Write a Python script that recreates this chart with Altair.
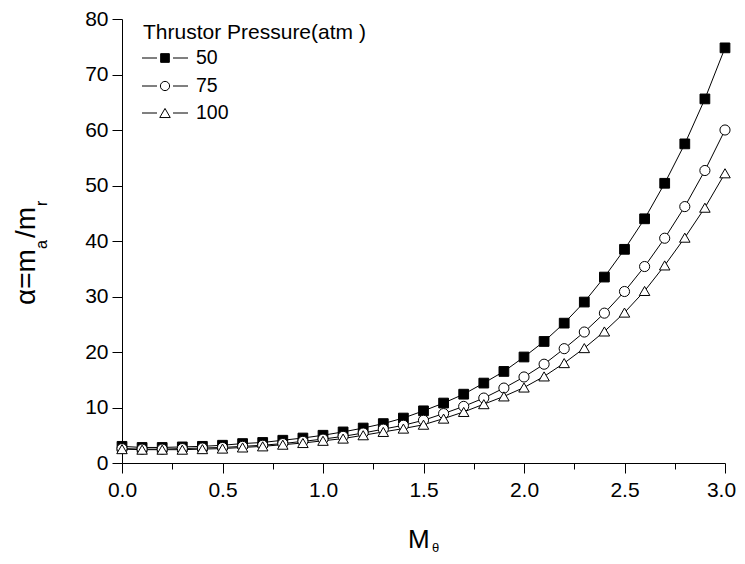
import altair as alt
import pandas as pd

mach = [0.0, 0.1, 0.2, 0.3, 0.4, 0.5, 0.6, 0.7, 0.8, 0.9, 1.0,
        1.1, 1.2, 1.3, 1.4, 1.5, 1.6, 1.7, 1.8, 1.9, 2.0,
        2.1, 2.2, 2.3, 2.4, 2.5, 2.6, 2.7, 2.8, 2.9, 3.0]

alpha_50 = [3.0, 2.8, 2.8, 2.9, 3.0, 3.2, 3.5, 3.7, 4.1, 4.5, 5.0,
            5.6, 6.3, 7.1, 8.1, 9.4, 10.8, 12.4, 14.4, 16.5, 19.1,
            21.9, 25.2, 29.0, 33.5, 38.5, 44.0, 50.4, 57.5, 65.6, 74.8]
alpha_75 = [2.6, 2.5, 2.5, 2.6, 2.7, 2.8, 3.0, 3.2, 3.5, 3.9, 4.3,
            4.8, 5.4, 6.1, 6.8, 7.7, 8.9, 10.2, 11.7, 13.5, 15.5,
            17.8, 20.6, 23.6, 27.0, 30.9, 35.4, 40.5, 46.2, 52.7, 60.0]
alpha_100 = [2.5, 2.4, 2.4, 2.4, 2.5, 2.6, 2.8, 3.0, 3.3, 3.6, 4.0,
             4.4, 5.0, 5.6, 6.2, 6.9, 8.0, 9.2, 10.6, 12.0, 13.6,
             15.6, 18.0, 20.7, 23.7, 27.1, 31.0, 35.6, 40.6, 46.0, 52.2]

series_names = ["50", "75", "100"]
series_shapes = ["square", "circle", "triangle-up"]
series_fills = ["black", "white", "white"]
series_sizes = [95, 110, 140]
legend_title = "Thrustor Pressure(atm )"

x_ticks = [0.0, 0.25, 0.5, 0.75, 1.0, 1.25, 1.5, 1.75, 2.0, 2.25, 2.5, 2.75, 3.0]
y_ticks = [0, 5, 10, 15, 20, 25, 30, 35, 40, 45, 50, 55, 60, 65, 70, 75, 80]

rows = []
for name, vals in zip(series_names, [alpha_50, alpha_75, alpha_100]):
    for m, a in zip(mach, vals):
        rows.append({"M": m, "alpha": a, "series": name})
df = pd.DataFrame(rows)

FONT = "Liberation Sans"

x_enc = alt.X(
    "M:Q",
    scale=alt.Scale(domain=[0, 3], nice=False, zero=False, padding=0),
    axis=alt.Axis(
        values=x_ticks,
        labelExpr="datum.value % 0.5 === 0 ? format(datum.value, '.1f') : ''",
        tickSize={"condition": {"test": "datum.value % 0.5 === 0", "value": 10}, "value": 6},
        labelOffset={"condition": {"test": "datum.value === 3", "value": -4}, "value": 0},
        labelPadding=6,
        labelFlush=False,
        offset=0,
        title=None,
        grid=False,
    ),
)
y_enc = alt.Y(
    "alpha:Q",
    scale=alt.Scale(domain=[0, 80], nice=False, padding=0),
    axis=alt.Axis(
        values=y_ticks,
        labelExpr="datum.value % 10 === 0 ? format(datum.value, 'd') : ''",
        tickSize={"condition": {"test": "datum.value % 10 === 0", "value": 10}, "value": 6},
        labelPadding=4,
        labelFlush=False,
        offset=0,
        title=None,
        grid=False,
    ),
)

base = alt.Chart(df)

lines = base.mark_line(color="black", strokeWidth=1).encode(
    x=x_enc, y=y_enc, detail="series:N"
)

points = base.mark_point(filled=True, stroke="black", strokeWidth=1, opacity=1).encode(
    x="M:Q",
    y="alpha:Q",
    shape=alt.Shape("series:N", scale=alt.Scale(domain=series_names, range=series_shapes), legend=None),
    fill=alt.Fill("series:N", scale=alt.Scale(domain=series_names, range=series_fills), legend=None),
    size=alt.Size("series:N", scale=alt.Scale(domain=series_names, range=series_sizes), legend=None),
)

layers = [lines, points]

# manual legend
row_y = [39, 67, 94]
layers.append(
    alt.Chart(pd.DataFrame({"t": [legend_title]})).mark_text(
        font=FONT, fontSize=21, align="left", baseline="middle", color="black"
    ).encode(text="t:N", x=alt.value(21), y=alt.value(14))
)
legend_sizes = [75, 85, 110]
for i, (name, shp, fl) in enumerate(zip(series_names, series_shapes, series_fills)):
    d = pd.DataFrame({"label": [name]})
    c = alt.Chart(d)
    layers.append(c.mark_rule(color="black", strokeWidth=1).encode(
        x=alt.value(20), x2=alt.value(35), y=alt.value(row_y[i])))
    layers.append(c.mark_rule(color="black", strokeWidth=1).encode(
        x=alt.value(51), x2=alt.value(66), y=alt.value(row_y[i])))
    layers.append(c.mark_point(shape=shp, filled=True, fill=fl, stroke="black",
                               strokeWidth=1, size=legend_sizes[i], opacity=1).encode(
        x=alt.value(43), y=alt.value(row_y[i])))
    layers.append(c.mark_text(font=FONT, fontSize=19.5, align="left", baseline="middle",
                              color="black").encode(
        text="label:N", x=alt.value(74), y=alt.value(row_y[i])))

# axis titles with subscripts
def txt(s, size, x, y, angle=0, align="left", baseline="alphabetic"):
    kw = dict(font=FONT, fontSize=size, align=align, baseline=baseline, color="black")
    if angle:
        kw["angle"] = angle
    return alt.Chart(pd.DataFrame({"t": [s]})).mark_text(**kw).encode(
        text="t:N", x=alt.value(x), y=alt.value(y))

layers.append(txt("M", 26, 286, 529))
layers.append(txt("θ", 13, 310, 533))
layers.append(txt("α=m", 28, -87, 286, angle=270))
layers.append(txt("a", 16, -75, 230, angle=270))
layers.append(txt("/m", 28, -87, 219, angle=270))
layers.append(txt("r", 16, -75, 187, angle=270))

chart = alt.layer(*layers).properties(
    width=603, height=444,
    autosize=alt.AutoSizeParams(type="none"),
    padding={"left": 114, "top": 11, "right": 12, "bottom": 93},
    background="white",
).configure_view(stroke=None).configure_axis(
    domainColor="black", tickColor="black", labelColor="black",
    labelFont=FONT, labelFontSize=21, domainWidth=1, tickWidth=1,
)

chart.save("out.html", embed_options={"renderer": "svg", "actions": False})
